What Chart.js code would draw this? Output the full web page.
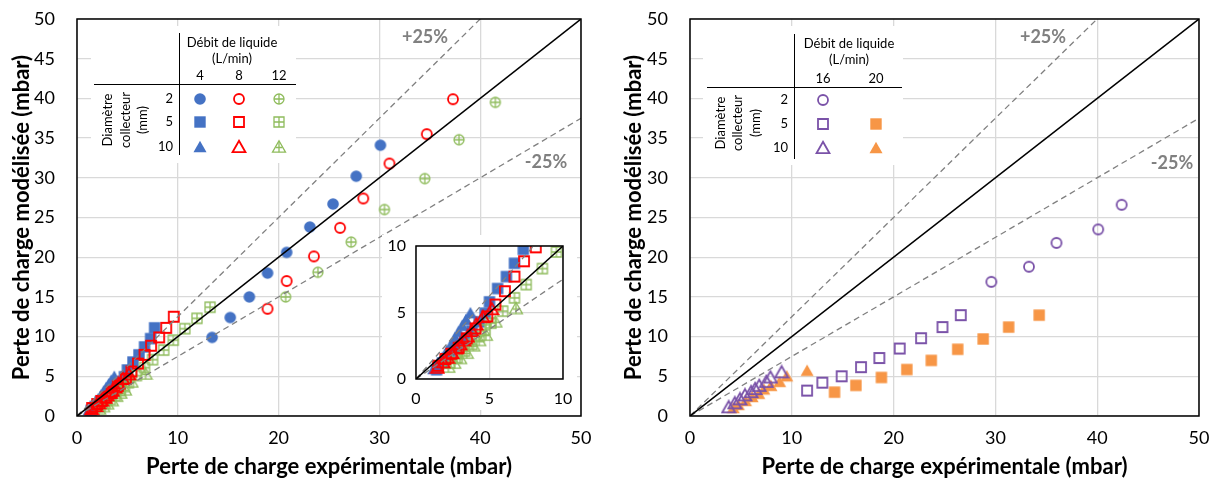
<!DOCTYPE html>
<html>
<head>
<meta charset="utf-8">
<script src="https://cdn.jsdelivr.net/npm/chart.js@4.4.1/dist/chart.umd.min.js"></script>
<style>
  body { margin: 0; background: #fff; width: 1217px; height: 485px; position: relative; overflow: hidden; }
  .box { position: absolute; }
</style>
</head>
<body>
<div class="box" style="left:0;top:0;width:608px;height:485px"><canvas id="left"></canvas></div>
<div class="box" style="left:382px;top:235px;width:195px;height:175px"><canvas id="inset"></canvas></div>
<div class="box" style="left:608px;top:0;width:609px;height:485px"><canvas id="right"></canvas></div>
<script>
// tick labels
const xTicks = [0, 10, 20, 30, 40, 50];
const yTicks = [0, 5, 10, 15, 20, 25, 30, 35, 40, 45, 50];
const insetTicks = [0, 5, 10];

// reference lines: y = slope * x
const refX = [0, 50];
const refSlopes = [1, 1.25, 0.75];

// left panel, [experimental, modelled] in mbar; name = flow (L/min) _ collector diameter (mm)
const q4_d2 = [[13.4, 9.9], [15.2, 12.4], [17.1, 15.0], [18.9, 18.0], [20.8, 20.6], [23.1, 23.8], [25.4, 26.7], [27.7, 30.2], [30.1, 34.1]];
const q8_d2 = [[18.9, 13.5], [20.8, 17.0], [23.5, 20.1], [26.1, 23.7], [28.4, 27.4], [31.0, 31.8], [34.7, 35.5], [37.3, 39.9]];
const q12_d2 = [[20.7, 15.0], [23.9, 18.1], [27.2, 21.9], [30.5, 26.0], [34.5, 29.9], [37.9, 34.8], [41.5, 39.5]];
const q4_d5 = [[1.4, 0.7], [1.8, 1.2], [2.3, 1.8], [2.8, 2.4], [3.3, 3.0], [3.8, 3.6], [4.3, 4.3], [4.7, 4.95], [5.0, 5.8], [5.55, 6.8], [6.15, 7.7], [6.7, 8.7], [7.3, 9.75], [7.7, 11.1]];
const q8_d5 = [[1.5, 1.0], [2.0, 1.5], [2.4, 1.9], [2.9, 2.35], [3.45, 3.05], [4.05, 3.8], [4.85, 4.7], [5.4, 5.6], [6.05, 6.6], [6.7, 7.7], [7.35, 8.85], [8.15, 9.9], [8.85, 11.1], [9.6, 12.5]];
const q12_d5 = [[2.3, 1.2], [2.8, 1.6], [3.3, 2.1], [3.8, 2.6], [4.3, 3.2], [4.7, 3.7], [5.1, 4.2], [5.9, 5.1], [6.7, 6.1], [7.5, 7.1], [8.6, 8.3], [9.55, 9.55], [10.7, 11.0], [11.9, 12.3], [13.2, 13.7]];
const q4_d10 = [[1.2, 0.75], [1.5, 1.2], [1.8, 1.6], [2.1, 2.1], [2.4, 2.6], [2.65, 3.1], [2.9, 3.55], [3.15, 4.0], [3.4, 4.45], [3.7, 4.95]];
const q8_d10 = [[1.45, 0.85], [1.85, 1.25], [2.15, 1.6], [2.45, 1.95], [2.75, 2.3], [3.0, 2.6], [3.25, 2.9], [3.5, 3.2], [3.8, 3.6], [4.1, 4.1], [4.55, 4.65], [5.15, 5.25]];
const q12_d10 = [[2.2, 0.9], [2.6, 1.2], [3.0, 1.55], [3.45, 1.95], [3.9, 2.5], [4.3, 2.9], [4.75, 3.3], [5.4, 4.3], [6.8, 5.3]];

// right panel
const q16_d2 = [[29.6, 16.9], [33.3, 18.8], [36.0, 21.8], [40.1, 23.5], [42.4, 26.6]];
const q16_d5 = [[11.5, 3.2], [13.0, 4.2], [14.9, 5.0], [16.8, 6.15], [18.6, 7.3], [20.6, 8.5], [22.7, 9.8], [24.8, 11.2], [26.6, 12.7]];
const q16_d10 = [[3.8, 1.1], [4.4, 1.6], [4.9, 2.1], [5.4, 2.6], [6.0, 3.0], [6.4, 3.4], [6.8, 3.8], [7.5, 4.3], [7.9, 4.85], [9.0, 5.5]];
const q20_d5 = [[14.2, 3.0], [16.3, 3.85], [18.8, 4.85], [21.3, 5.85], [23.7, 7.0], [26.3, 8.4], [28.8, 9.7], [31.3, 11.2], [34.3, 12.7]];
const q20_d10 = [[4.25, 1.0], [4.75, 1.4], [5.45, 1.9], [6.1, 2.4], [6.75, 2.8], [7.25, 3.35], [7.95, 3.8], [8.8, 4.3], [9.5, 5.0], [11.5, 5.7]];

const BLUE = '#4472C4', RED = '#FF0000', GREEN = '#8FBC5C', PURPLE = '#7A52A8', ORANGE = '#F79646';
const GRID = '#D9D9D9';
const FONT = 'Lato, "Open Sans", sans-serif';
Chart.defaults.font.family = FONT;
Chart.defaults.color = '#000';

function marker(shape, color, mode) {
  const c = document.createElement('canvas');
  c.width = 16; c.height = 16;
  const g = c.getContext('2d');
  g.translate(8, 8);
  g.strokeStyle = color; g.fillStyle = color;
  g.lineWidth = mode === 'grid' ? 1.3 : 1.8;
  g.beginPath();
  if (shape === 'circle') g.arc(0, 0, mode === 'fill' ? 5.8 : 5, 0, Math.PI * 2);
  else if (shape === 'square') { const h = mode === 'fill' ? 5.7 : 5; g.rect(-h, -h, 2 * h, 2 * h); }
  else { g.moveTo(0, -6.2); g.lineTo(6.5, 5.2); g.lineTo(-6.5, 5.2); g.closePath(); }
  if (mode === 'fill') g.fill(); else g.stroke();
  if (mode === 'grid') {
    g.beginPath();
    if (shape === 'triangle') { g.moveTo(0, -5.2); g.lineTo(0, 5.2); g.moveTo(-3.3, 0.5); g.lineTo(3.3, 0.5); }
    else { g.moveTo(0, -5); g.lineTo(0, 5); g.moveTo(-5, 0); g.lineTo(5, 0); }
    g.stroke();
  }
  return c;
}

const M = {
  q4_d2: marker('circle', BLUE, 'fill'), q8_d2: marker('circle', RED, 'line'), q12_d2: marker('circle', GREEN, 'grid'),
  q4_d5: marker('square', BLUE, 'fill'), q8_d5: marker('square', RED, 'line'), q12_d5: marker('square', GREEN, 'grid'),
  q4_d10: marker('triangle', BLUE, 'fill'), q8_d10: marker('triangle', RED, 'line'), q12_d10: marker('triangle', GREEN, 'grid'),
  q16_d2: marker('circle', PURPLE, 'line'), q16_d5: marker('square', PURPLE, 'line'), q16_d10: marker('triangle', PURPLE, 'line'),
  q20_d5: marker('square', ORANGE, 'fill'), q20_d10: marker('triangle', ORANGE, 'fill')
};

function pts(arr) { return arr.map(p => ({ x: p[0], y: p[1] })); }

function series(arr, img, order) {
  return { data: pts(arr), pointStyle: img, pointRadius: 5, showLine: false, order: order };
}

function refLines() {
  return refSlopes.map((s, i) => ({
    data: refX.map(x => ({ x: x, y: s * x })),
    showLine: true, pointRadius: 0, clip: 0, order: 0,
    borderColor: i === 0 ? '#000' : '#808080',
    borderWidth: i === 0 ? 1.5 : 1.3,
    borderDash: i === 0 ? [] : [6, 4]
  }));
}

function leftSets() {
  return refLines().concat([
    series(q8_d10, M.q8_d10, 1), series(q8_d5, M.q8_d5, 1), series(q8_d2, M.q8_d2, 1),
    series(q12_d10, M.q12_d10, 2), series(q12_d5, M.q12_d5, 2), series(q12_d2, M.q12_d2, 2),
    series(q4_d10, M.q4_d10, 3), series(q4_d5, M.q4_d5, 3), series(q4_d2, M.q4_d2, 3)
  ]);
}

// keep the plot area where the layout padding puts it
function noPad(s) { s.paddingTop = 0; s.paddingBottom = 0; s.paddingLeft = 0; s.paddingRight = 0; }

function makeOptions(c) {
  return {
    responsive: true, maintainAspectRatio: false, animation: false,
    layout: { padding: c.padding, autoPadding: false },
    plugins: { legend: { display: false }, tooltip: { enabled: false }, decor: c.decor || false },
    scales: {
      x: {
        type: 'linear', min: 0, max: c.max,
        afterBuildTicks: s => { s.ticks = c.xTicks.map(v => ({ value: v })); },
        afterFit: s => { s.height = c.xHeight; noPad(s); },
        grid: { color: GRID, lineWidth: 1.3, drawTicks: false },
        border: { display: false },
        ticks: { padding: c.xPad, font: { size: c.font }, maxRotation: 0, autoSkip: false }
      },
      y: {
        type: 'linear', min: 0, max: c.max,
        afterBuildTicks: s => { s.ticks = c.yTicks.map(v => ({ value: v })); },
        afterFit: s => { s.width = c.yWidth; noPad(s); },
        grid: { color: GRID, lineWidth: 1.3, drawTicks: false },
        border: { display: false },
        ticks: { padding: c.yPad, font: { size: c.font }, autoSkip: false }
      }
    }
  };
}

function drawTable(ctx, t) {
  ctx.fillStyle = '#fff';
  ctx.fillRect(t.box[0], t.box[1], t.box[2], t.box[3]);
  ctx.fillStyle = '#000';
  ctx.font = '13px ' + FONT;
  ctx.textAlign = 'center'; ctx.textBaseline = 'middle';
  ctx.fillText('Débit de liquide', t.head[0], t.head[1]);
  ctx.fillText('(L/min)', t.head[0], t.head[1] + 16);
  t.cols.forEach(col => ctx.fillText(col.label, col.x, t.colY));
  ctx.textAlign = 'right';
  t.rows.forEach(r => ctx.fillText(r.label, t.rowX, r.y));
  ctx.textAlign = 'center';
  ['Diamètre', 'collecteur', '(mm)'].forEach((s, i) => {
    ctx.save();
    ctx.translate(t.rotX[i], t.rotY);
    ctx.rotate(-Math.PI / 2);
    ctx.fillText(s, 0, 0);
    ctx.restore();
  });
  ctx.strokeStyle = '#000'; ctx.lineWidth = 1;
  ctx.beginPath();
  ctx.moveTo(t.hline[0], t.hline[2] + 0.5); ctx.lineTo(t.hline[1], t.hline[2] + 0.5);
  ctx.moveTo(t.vline[0] + 0.5, t.vline[1]); ctx.lineTo(t.vline[0] + 0.5, t.vline[2]);
  ctx.stroke();
  t.marks.forEach(m => ctx.drawImage(m[2], m[0] - 8, m[1] - 8));
}

const decor = {
  id: 'decor',
  afterDraw(chart, args, o) {
    const ctx = chart.ctx, a = chart.chartArea;
    ctx.save();
    ctx.strokeStyle = '#000'; ctx.lineWidth = 1.5;
    ctx.strokeRect(a.left, a.top, a.right - a.left, a.bottom - a.top);
    if (o.table) {
      ctx.font = 'bold 22px ' + FONT;
      ctx.fillStyle = '#000';
      ctx.textAlign = 'center'; ctx.textBaseline = 'middle';
      ctx.fillText('Perte de charge expérimentale (mbar)', (a.left + a.right) / 2, 467);
      ctx.save();
      ctx.translate(o.yTitleX, (a.top + a.bottom) / 2);
      ctx.rotate(-Math.PI / 2);
      ctx.fillText('Perte de charge modélisée (mbar)', 0, 0);
      ctx.restore();
      ctx.font = 'bold 18px ' + FONT;
      ctx.fillStyle = '#808080';
      ctx.fillText('+25%', o.plus[0], o.plus[1]);
      ctx.fillText('-25%', o.minus[0], o.minus[1]);
      drawTable(ctx, o.table);
    }
    ctx.restore();
  }
};

const whiteBg = {
  id: 'whiteBg',
  beforeDraw(chart) {
    const ctx = chart.ctx;
    ctx.save();
    ctx.fillStyle = '#fff';
    ctx.fillRect(0, 0, chart.width, chart.height);
    ctx.restore();
  }
};

Chart.register(decor);

new Chart(document.getElementById('left'), {
  type: 'scatter',
  data: { datasets: leftSets() },
  options: makeOptions({
    max: 50, xTicks: xTicks, yTicks: yTicks, font: 18,
    padding: { top: 19, right: 27, left: 0, bottom: 0 },
    xHeight: 69, yWidth: 77, xPad: 11, yPad: 22,
    decor: {
      yTitleX: 22, plus: [425, 37], minus: [546, 162],
      table: {
        box: [91, 26, 205, 137], head: [232, 43], colY: 76,
        cols: [{ x: 200, label: '4' }, { x: 239, label: '8' }, { x: 279, label: '12' }],
        rowX: 173, rows: [{ y: 99, label: '2' }, { y: 122, label: '5' }, { y: 147, label: '10' }],
        rotX: [108, 126, 143], rotY: 120,
        hline: [94, 296, 84], vline: [179, 33, 155],
        marks: [
          [200, 99, M.q4_d2], [239, 99, M.q8_d2], [279, 99, M.q12_d2],
          [200, 122, M.q4_d5], [239, 122, M.q8_d5], [279, 122, M.q12_d5],
          [200, 147, M.q4_d10], [239, 147, M.q8_d10], [279, 147, M.q12_d10]
        ]
      }
    }
  })
});

new Chart(document.getElementById('inset'), {
  type: 'scatter',
  data: { datasets: leftSets() },
  plugins: [whiteBg],
  options: makeOptions({
    max: 10, xTicks: insetTicks, yTicks: insetTicks, font: 16,
    padding: { top: 11, right: 14, left: 0, bottom: 0 },
    xHeight: 31, yWidth: 34, xPad: 10, yPad: 10,
    decor: {}
  })
});

new Chart(document.getElementById('right'), {
  type: 'scatter',
  data: {
    datasets: refLines().concat([
      series(q16_d2, M.q16_d2, 1), series(q16_d5, M.q16_d5, 1), series(q16_d10, M.q16_d10, 1),
      series(q20_d5, M.q20_d5, 2), series(q20_d10, M.q20_d10, 2)
    ])
  },
  options: makeOptions({
    max: 50, xTicks: xTicks, yTicks: yTicks, font: 18,
    padding: { top: 19, right: 18, left: 0, bottom: 0 },
    xHeight: 69, yWidth: 82, xPad: 11, yPad: 22,
    decor: {
      yTitleX: 26, plus: [435, 37], minus: [564, 163],
      table: {
        box: [95, 26, 200, 139], head: [241, 44], colY: 79,
        cols: [{ x: 215, label: '16' }, { x: 268, label: '20' }],
        rowX: 180, rows: [{ y: 100, label: '2' }, { y: 124, label: '5' }, { y: 148, label: '10' }],
        rotX: [113, 130, 148], rotY: 123,
        hline: [99, 294, 87], vline: [186, 34, 159],
        marks: [
          [215, 100, M.q16_d2], [215, 124, M.q16_d5], [215, 148, M.q16_d10],
          [268, 124, M.q20_d5], [268, 148, M.q20_d10]
        ]
      }
    }
  })
});
</script>
</body>
</html>
